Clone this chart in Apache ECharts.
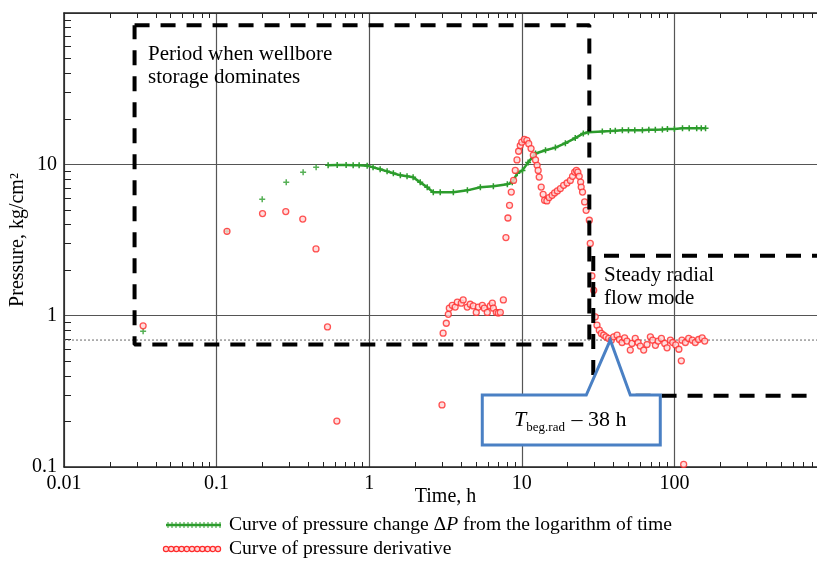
<!DOCTYPE html>
<html><head><meta charset="utf-8">
<script src="https://cdn.jsdelivr.net/npm/echarts@6/dist/echarts.min.js"></script>
<style>html,body{margin:0;padding:0;background:#fff}#c{width:817px;height:561px}</style>
</head><body><div id="c"></div>
<script>
// ---- data ----
const greenT = [0.033, 0.117, 0.199, 0.286, 0.369, 0.449,
  0.538, 0.617, 0.706, 0.785, 0.859, 0.97, 1.06, 1.18, 1.31, 1.44, 1.60, 1.77, 1.94, 2.16, 2.40, 2.63, 2.92, 3.56,
  4.40, 5.35, 6.51, 8.04, 8.66, 9.34, 10.1, 11.0, 12.3, 14.3, 16.6, 19.3, 22.4, 25.3, 27.3, 33.7, 38, 41, 45.6, 50,
  55, 61.7, 68, 75, 83.4, 90, 100, 113, 125, 140, 150, 160];
const greenP = [0.79, 3.61, 5.87, 7.6, 8.85, 9.55,
  9.85, 9.9, 9.9, 9.85, 9.85, 9.8, 9.55, 9.27, 8.99, 8.73, 8.46, 8.34, 8.21, 7.60, 7.05, 6.53, 6.53, 6.53,
  6.73, 7.05, 7.16, 7.38, 7.60, 8.73, 9.12, 10.3, 11.8, 12.4, 12.9, 13.8, 14.9, 16.0, 16.3, 16.5, 16.6, 16.7, 16.8, 16.8,
  16.8, 16.8, 16.9, 16.9, 17.0, 17.1, 17.1, 17.3, 17.3, 17.3, 17.3, 17.3];
const sparseCount = 6; // first points of ΔP drawn as separate crosses

const redT = [0.033, 0.117, 0.2, 0.284, 0.367, 0.448, 0.533, 0.614,
  3.0, 3.05, 3.20, 3.30, 3.35, 3.50, 3.66, 3.78, 4.01, 4.13, 4.39, 4.59, 4.81, 5.03, 5.19, 5.51, 5.68, 5.94, 6.21, 6.41,
  6.51, 6.81, 7.01, 7.23, 7.57,
  7.87, 8.11, 8.31, 8.53, 8.83, 9.06, 9.30, 9.53, 9.77, 10.0, 10.4, 10.8, 11.1, 11.5, 11.9, 12.3, 12.6, 12.8, 13.0, 13.4,
  13.8, 14.1, 14.6, 15.1, 15.8, 16.4, 17.1, 17.9, 18.8, 19.8, 20.8, 21.5, 22.2, 22.8, 23.3, 23.8, 24.3, 24.5, 25.0, 25.8,
  26.4, 27.7, 28.1, 28.8, 29.6,
  30.3, 31.1, 32.2, 33.2, 34.4, 35.6, 37.1, 38.6, 40.0, 42.1, 43.6, 45.4, 47.2, 48.9, 51.4, 52.7, 55.4, 57.8, 59.8, 62.9,
  66.2, 69.6, 72.1, 75.1, 78.2, 82.2, 86.4, 89.5, 94.1, 97.5, 102, 107, 111, 112, 115, 118, 124, 131, 137, 144, 152, 158];
const redP = [0.857, 3.61, 4.73, 4.87, 4.35, 2.76, 0.843, 0.201,
  0.257, 0.766, 0.891, 1.02, 1.12, 1.17, 1.14, 1.23, 1.21, 1.27, 1.14, 1.19, 1.16, 1.05, 1.14, 1.17, 1.12, 1.05, 1.16, 1.21,
  1.12, 1.05, 1.04, 1.05, 1.27,
  3.28, 4.42, 5.36, 6.56, 7.83, 9.12, 10.7, 12.2, 13.3, 14.0, 14.6, 14.4, 13.7, 12.7, 11.5, 10.7, 9.85, 9.12, 8.24, 7.08,
  6.34, 5.78, 5.73, 6.03, 6.24, 6.47, 6.67, 6.92, 7.27, 7.53, 7.83, 8.33, 8.89, 9.12, 8.89, 8.33, 7.64, 7.08, 6.56, 5.64,
  4.97, 4.27, 3.00, 1.83, 1.47,
  0.982, 0.865, 0.802, 0.763, 0.743, 0.725, 0.707, 0.689, 0.725, 0.743, 0.696, 0.665, 0.713, 0.679, 0.592, 0.656, 0.707, 0.665, 0.630, 0.592,
  0.645, 0.725, 0.689, 0.637, 0.679, 0.707, 0.656, 0.613, 0.689, 0.665, 0.641, 0.600, 0.503, 0.689, 0.104, 0.665, 0.707, 0.689, 0.665, 0.696, 0.713, 0.679];

const xTicks = [0.01, 0.1, 1, 10, 100];
const xTickLabels = ['0.01', '0.1', '1', '10', '100'];
const yTicks = [0.1, 1, 10];
const yTickLabels = ['0.1', '1', '10'];

const refLevel = 0.69;           // dotted horizontal reference
const box1T = [0.029, 27.7, 27.7, 0.029, 0.029];
const box1P = [83, 83, 0.645, 0.645, 83];
const box2T = [1000, 29.4, 29.4, 1000];
const box2P = [2.49, 2.49, 0.296, 0.296];
const tBegRad = 38;              // callout tip time

// ---- chart ----
const FONT = 'Liberation Serif';
const GREEN = '#2c9c2c', RED = '#ff2b2b', BLUE = '#4a80c4';
const zip = (a, b) => a.map((v, i) => [v, b[i]]);
const fmt = (ticks, labels) => v => {
  const i = ticks.findIndex(t => Math.abs(Math.log10(t) - Math.log10(v)) < 1e-6);
  return i >= 0 ? labels[i] : '';
};
const plusPath = 'path://M3,0h2v3h3v2h-3v3h-2v-3h-3v-2h3z';

const chart = echarts.init(document.getElementById('c'), null, {renderer: 'canvas'});
const axisLineStyle = {color: '#222', width: 1.5};
const minorTick = {show: true, splitNumber: 9, length: 5, lineStyle: {color: '#222', width: 1}};
const option = {
  animation: false,
  backgroundColor: '#fff',
  grid: {left: 64, right: -10, top: 13, bottom: 94, containLabel: false, outerBoundsMode: 'none'},
  xAxis: [{
    type: 'log', min: 0.01, max: 1000, position: 'bottom',
    axisLine: {show: true, lineStyle: axisLineStyle},
    axisTick: {show: false, inside: true},
    minorTick: minorTick,
    axisLabel: {fontFamily: FONT, fontSize: 20, color: '#000', margin: 7, formatter: fmt(xTicks, xTickLabels)},
    splitLine: {show: true, lineStyle: {color: '#555', width: 1.2}},
    name: 'Time, h', nameLocation: 'middle', nameGap: 20, nameMoveOverlap: false,
    nameTextStyle: {fontFamily: FONT, fontSize: 20, color: '#000'}
  }, {
    type: 'log', min: 0.01, max: 1000, position: 'top',
    axisLine: {show: true, lineStyle: axisLineStyle},
    axisTick: {show: false, inside: true},
    minorTick: minorTick,
    axisLabel: {show: false},
    splitLine: {show: false}
  }],
  yAxis: [{
    type: 'log', min: 0.1, max: 100, position: 'left',
    axisLine: {show: true, lineStyle: axisLineStyle},
    axisTick: {show: false, inside: true},
    minorTick: {show: true, splitNumber: 9, length: 7, lineStyle: {color: '#222', width: 1}},
    axisLabel: {fontFamily: FONT, fontSize: 20, color: '#000', margin: 7, formatter: fmt(yTicks, yTickLabels)},
    splitLine: {show: true, lineStyle: {color: '#555', width: 1.2}},
    name: 'Pressure, kg/cm²', nameLocation: 'middle', nameGap: 36, nameRotate: 90, nameMoveOverlap: false,
    nameTextStyle: {fontFamily: FONT, fontSize: 20, color: '#000'}
  }],
  series: [
    {type: 'line', silent: true, symbol: 'none', z: 1,
      data: [[0.01, refLevel], [1000, refLevel]],
      lineStyle: {color: '#666', width: 1, type: [2, 2]}},
    {type: 'scatter', name: 'dP sparse', data: zip(greenT, greenP).slice(0, sparseCount),
      symbol: plusPath, symbolSize: 6, itemStyle: {color: GREEN}, z: 3},
    {type: 'line', name: 'dP', data: zip(greenT, greenP).slice(sparseCount),
      symbol: plusPath, symbolSize: 6, showSymbol: true, showAllSymbol: true,
      itemStyle: {color: GREEN}, lineStyle: {color: GREEN, width: 2.5}, z: 3},
    {type: 'scatter', name: 'derivative', data: zip(redT, redP),
      symbol: 'circle', symbolSize: 6,
      itemStyle: {color: '#ffd6d6', borderColor: RED, borderWidth: 1.3}, z: 4},
    {type: 'line', silent: true, symbol: 'none', data: zip(box1T, box1P), z: 5,
      lineStyle: {color: '#000', width: 4, type: [15, 11]}},
    {type: 'line', silent: true, symbol: 'none', data: zip(box2T, box2P), z: 5,
      lineStyle: {color: '#000', width: 4, type: [15, 11]}}
  ]
};
chart.setOption(option);

// annotations and legend
const tip = chart.convertToPixel({gridIndex: 0}, [tBegRad, refLevel]);
const tx = tip[0], ty = tip[1];
const graphics = [];
graphics.push({
  type: 'polygon', z: 100,
  shape: {points: [[tx - 128, ty + 55], [tx - 24, ty + 55], [tx, ty], [tx + 20, ty + 55], [tx + 50, ty + 55],
    [tx + 50, ty + 105], [tx - 128, ty + 105]]},
  style: {fill: '#fff', stroke: BLUE, lineWidth: 3, lineJoin: 'miter'}
});
graphics.push({
  type: 'text', z: 101, x: tx - 40, y: ty + 80,
  style: {
    text: '{t|T}{s|beg.rad}{n| – 38 h}', align: 'center', verticalAlign: 'middle',
    rich: {
      t: {fontFamily: FONT, fontSize: 22, fontStyle: 'italic', fill: '#000', verticalAlign: 'bottom'},
      s: {fontFamily: FONT, fontSize: 13, fill: '#000', verticalAlign: 'bottom', padding: [0, 1, -3, 0]},
      n: {fontFamily: FONT, fontSize: 22, fill: '#000', verticalAlign: 'bottom'}
    }
  }
});
graphics.push({
  type: 'text', z: 50, x: 148, y: 43,
  style: {text: 'Period when wellbore\nstorage dominates', fontFamily: FONT, fontSize: 21, lineHeight: 23, fill: '#000'}
});
graphics.push({
  type: 'text', z: 50, x: 604, y: 264,
  style: {text: 'Steady radial\nflow mode', fontFamily: FONT, fontSize: 21, lineHeight: 23, fill: '#000'}
});
// legend
const lg = [];
lg.push({type: 'line', shape: {x1: 166, y1: 525, x2: 221, y2: 525}, style: {stroke: GREEN, lineWidth: 2.5}});
for (let i = 0; i < 14; i++) {
  const cx = 168 + i * 4;
  lg.push({type: 'line', shape: {x1: cx, y1: 522, x2: cx, y2: 528}, style: {stroke: GREEN, lineWidth: 1}});
}
for (let i = 0; i < 11; i++) {
  lg.push({type: 'circle', shape: {cx: 166 + i * 5.2, cy: 549, r: 2.6}, style: {fill: '#ffd6d6', stroke: RED, lineWidth: 1.2}});
}
lg.push({type: 'text', x: 229, y: 525, style: {
  text: '{a|Curve of pressure change Δ}{i|P}{a| from the logarithm of time}', verticalAlign: 'middle',
  rich: {a: {fontFamily: FONT, fontSize: 19.6, fill: '#000'}, i: {fontFamily: FONT, fontSize: 19.6, fontStyle: 'italic', fill: '#000'}}
}});
lg.push({type: 'text', x: 229, y: 549, style: {
  text: 'Curve of pressure derivative', verticalAlign: 'middle', fontFamily: FONT, fontSize: 19.6, fill: '#000'
}});
chart.setOption({graphic: graphics.concat(lg)});
</script>
</body></html>
